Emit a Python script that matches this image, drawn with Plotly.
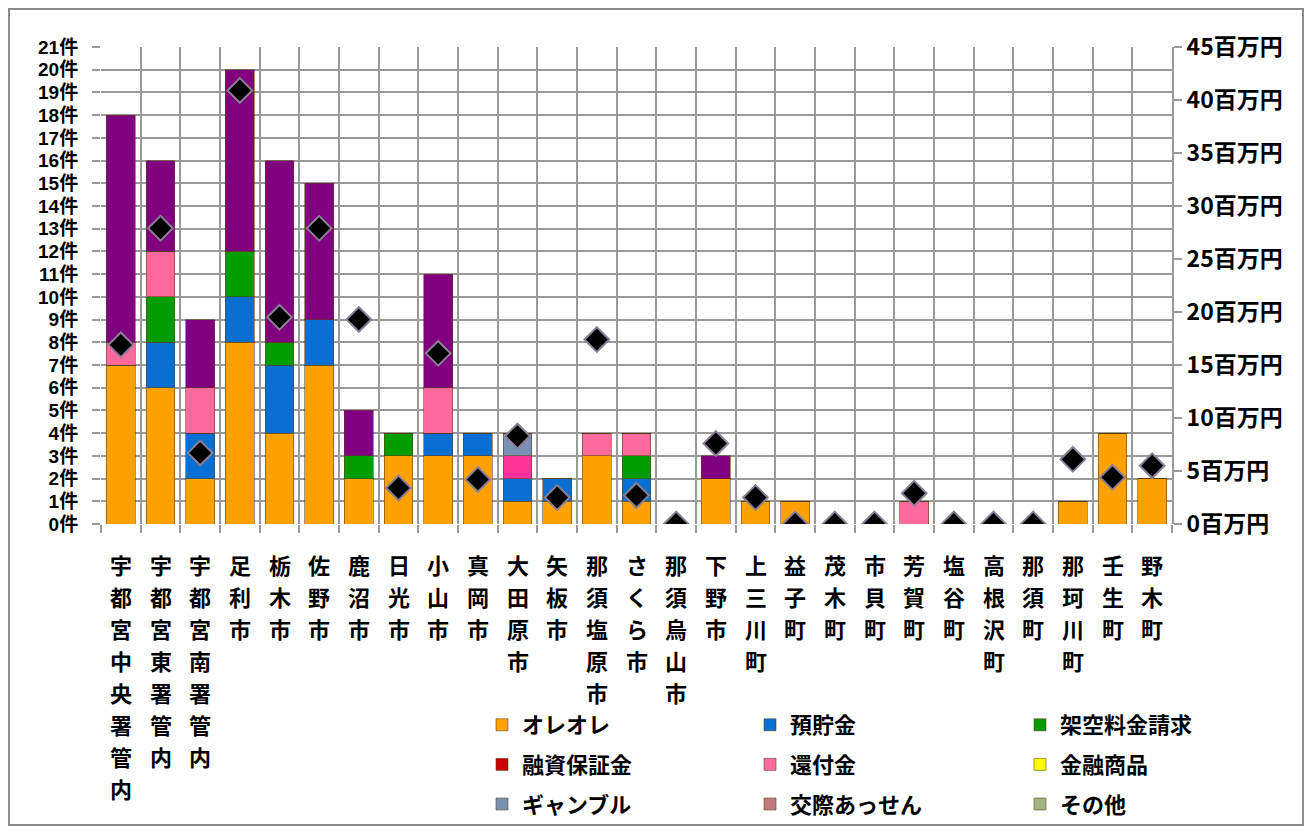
import plotly.graph_objects as go

categories = ["宇都宮中央署管内", "宇都宮東署管内", "宇都宮南署管内", "足利市", "栃木市", "佐野市",
              "鹿沼市", "日光市", "小山市", "真岡市", "大田原市", "矢板市", "那須塩原市", "さくら市",
              "那須烏山市", "下野市", "上三川町", "益子町", "茂木町", "市貝町", "芳賀町", "塩谷町",
              "高根沢町", "那須町", "那珂川町", "壬生町", "野木町"]

ore_ore      = [7, 6, 2, 8, 4, 7, 2, 3, 3, 3, 1, 1, 3, 1, 0, 2, 1, 1, 0, 0, 0, 0, 0, 0, 1, 4, 2]
yochokin     = [0, 2, 2, 2, 3, 2, 0, 0, 1, 1, 1, 1, 0, 1, 0, 0, 0, 0, 0, 0, 0, 0, 0, 0, 0, 0, 0]
kakuu        = [0, 2, 0, 2, 1, 0, 1, 1, 0, 0, 0, 0, 0, 1, 0, 0, 0, 0, 0, 0, 0, 0, 0, 0, 0, 0, 0]
yushi        = [0] * 27
kanpu        = [1, 2, 2, 0, 0, 0, 0, 0, 2, 0, 0, 0, 1, 1, 0, 0, 0, 0, 0, 0, 1, 0, 0, 0, 0, 0, 0]
unlisted_pk  = [0, 0, 0, 0, 0, 0, 0, 0, 0, 0, 1, 0, 0, 0, 0, 0, 0, 0, 0, 0, 0, 0, 0, 0, 0, 0, 0]
kinyu        = [0] * 27
gamble       = [0, 0, 0, 0, 0, 0, 0, 0, 0, 0, 1, 0, 0, 0, 0, 0, 0, 0, 0, 0, 0, 0, 0, 0, 0, 0, 0]
kosai        = [0] * 27
sonota       = [0] * 27
unlisted_pu  = [10, 4, 3, 8, 8, 6, 2, 0, 5, 0, 0, 0, 0, 0, 0, 1, 0, 0, 0, 0, 0, 0, 0, 0, 0, 0, 0]

amount_million = [16.9, 27.9, 6.7, 40.9, 19.5, 27.9, 19.3, 3.4, 16.1, 4.2, 8.3, 2.5, 17.4, 2.7,
                  0, 7.6, 2.5, 0, 0, 0, 2.9, 0, 0, 0, 6.1, 4.4, 5.5]

left_ticks = list(range(0, 22))
left_ticktext = [f"{v}件" for v in left_ticks]
right_ticks = list(range(0, 46, 5))
right_ticktext = [f"{v}百万円" for v in right_ticks]

FONT = "Noto Sans CJK JP"
FONT_TIGHT = "Liberation Sans, Noto Sans CJK JP"

# (name, values, color, legend, showlegend)
series = [
    ("オレオレ", ore_ore, "#FFA200", "legend", True),
    ("預貯金", yochokin, "#0A6FD2", "legend2", True),
    ("架空料金請求", kakuu, "#009C00", "legend3", True),
    ("融資保証金", yushi, "#C80000", "legend", True),
    ("還付金", kanpu, "#FF6A9E", "legend2", True),
    ("その他(区分外)", unlisted_pk, "#FF3399", "legend", False),
    ("金融商品", kinyu, "#FFFF00", "legend3", True),
    ("ギャンブル", gamble, "#7B91B3", "legend", True),
    ("交際あっせん", kosai, "#C27C7C", "legend2", True),
    ("その他", sonota, "#A3B385", "legend3", True),
    ("区分外", unlisted_pu, "#800080", "legend", False),
]

fig = go.Figure()
for name, vals, color, lg, show in series:
    fig.add_trace(go.Bar(
        name=name, x=categories, y=vals,
        marker=dict(color=color, line=dict(color="rgba(90,60,20,0.55)", width=1)),
        legend=lg, legendgroup=name, showlegend=show,
        hoverinfo="name+y",
    ))

fig.add_trace(go.Scatter(
    name="被害額", x=categories, y=amount_million, yaxis="y2", mode="markers",
    marker=dict(symbol="diamond", size=19, color="#000000", line=dict(color="#8a7f95", width=2)),
    showlegend=False,
))

# page has an 8px body margin; work in screen pixels and convert
OFF = 8
W, H = 1296, 818
PL, PR, PT, PB = 101, 1172, 47, 524   # plot area in screen px
L = PL - OFF
T = PT - OFF
R = W - (PR - OFF)
B = H - (PB - OFF)
pw = W - L - R
ph = H - T - B

def px_x(x):
    return (x - PL) / pw

def px_y(y):
    return (PB - y) / ph

# vertical (one character per line) category labels
LABEL_TOP, LABEL_PITCH = 564, 32
annotations = []
for cat in categories:
    for k, ch in enumerate(cat):
        annotations.append(dict(
            x=cat, xref="x", y=px_y(LABEL_TOP + LABEL_PITCH * k), yref="paper",
            text=ch, showarrow=False, xanchor="center", yanchor="middle",
            font=dict(family=FONT, size=22, color="#000000", weight="bold"),
        ))

legend_common = dict(
    orientation="v", yanchor="top", xanchor="left",
    font=dict(family=FONT, size=22, color="#000000", weight="bold"),
    bgcolor="rgba(0,0,0,0)", tracegroupgap=8, traceorder="grouped",
    itemclick=False, itemdoubleclick=False,
)

fig.update_layout(
    width=W, height=H,
    margin=dict(l=L, r=R, t=T, b=B, autoexpand=False),
    paper_bgcolor="white", plot_bgcolor="white",
    barmode="stack", bargap=0.27,
    font=dict(family=FONT, color="#000000"),
    xaxis=dict(
        type="category", range=[-0.5, len(categories) - 0.5],
        tickson="boundaries", showgrid=True, gridcolor="#9a9a9a", gridwidth=2,
        ticks="outside", ticklen=8, tickcolor="#9a9a9a", tickwidth=2,
        showticklabels=False, showline=False, zeroline=False,
    ),
    yaxis=dict(
        range=[0, 21], tickvals=left_ticks, ticktext=left_ticktext,
        showgrid=True, gridcolor="#9a9a9a", gridwidth=2,
        ticks="outside", ticklen=8, tickcolor="#9a9a9a", tickwidth=2,
        ticklabelstandoff=10,
        tickfont=dict(family=FONT_TIGHT, size=19, color="#000000", weight="bold"),
        zeroline=False, showline=False,
    ),
    yaxis2=dict(
        range=[0, 45], tickvals=right_ticks, ticktext=right_ticktext,
        overlaying="y", side="right", showgrid=False, zeroline=False,
        ticks="outside", ticklen=8, tickcolor="#9a9a9a", tickwidth=2,
        showline=True, linecolor="#9a9a9a", linewidth=2,
        tickfont=dict(family=FONT, size=23, color="#000000", weight="bold"),
    ),
    legend=dict(x=px_x(482), y=px_y(704), **legend_common),
    legend2=dict(x=px_x(750), y=px_y(704), **legend_common),
    legend3=dict(x=px_x(1020), y=px_y(704), **legend_common),
    annotations=annotations,
    shapes=[dict(type="rect", xref="paper", yref="paper",
                 x0=px_x(OFF + 1), x1=px_x(OFF + W - 1), y0=px_y(OFF + H - 1), y1=px_y(OFF + 1),
                 line=dict(color="#8c8c8c", width=2), fillcolor="rgba(0,0,0,0)", layer="below")],
)

fig.write_html("out.html")
